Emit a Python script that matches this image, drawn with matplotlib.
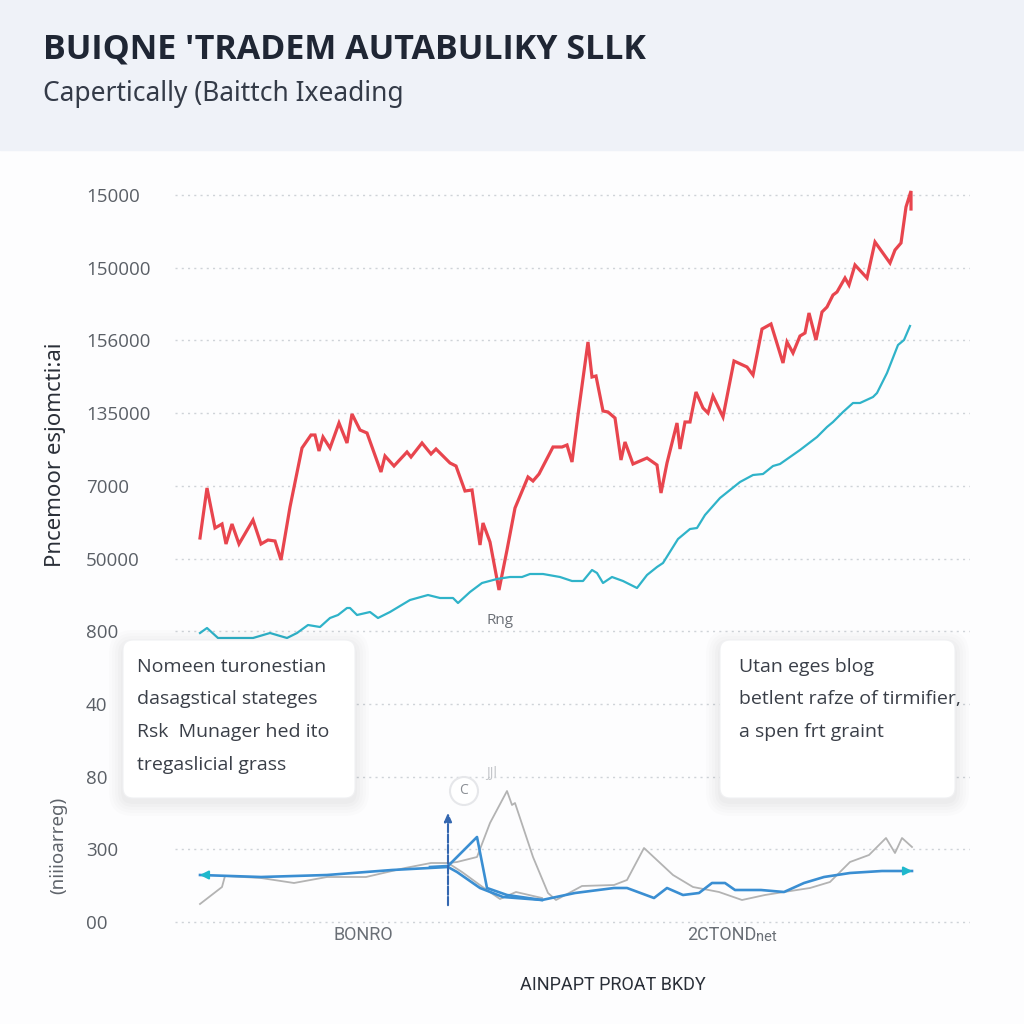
import matplotlib
matplotlib.use("Agg")
import matplotlib.pyplot as plt
from matplotlib.patches import FancyBboxPatch, Rectangle, Circle
import numpy as np

# ---------------- data ----------------
title = "BUIQNE 'TRADEM AUTABULIKY SLLK"
subtitle = "Capertically (Baittch Ixeading"
y_label = "Pncemoor esjomcti:ai"
y_label2 = "(niiioarreg)"
x_title = "AINPAPT PROAT BKDY"
ytick_labels = ["00", "300", "80", "40", "800", "50000", "7000",
                "135000", "156000", "150000", "15000"]
xcat_labels = ["BONRO", "2CTOND"]
xcat_pos = [163, 522]
box_left_lines = ["Nomeen turonestian", "dasagstical stateges",
                  "Rsk  Munager hed ito", "tregaslicial grass"]
box_right_lines = ["Utan eges blog", "betlent rafze of tirmifier,",
                   "a spen frt graint"]

red_x = [0, 7, 15, 22, 26, 32, 39, 53, 61, 68, 75, 81, 90, 102, 111, 115, 119, 123, 130, 139,
         147, 152, 160, 167, 181, 185, 194, 207, 211, 222, 231, 236, 250, 256, 265, 272, 280,
         283, 290, 299, 307, 315, 328, 333, 339, 353, 362, 367, 372, 378, 388, 392, 396, 403,
         408, 415, 421, 425, 433, 447, 457, 461, 467, 477, 480, 485, 490, 496, 503, 508, 513,
         523, 534, 547, 553, 562, 571, 583, 587, 593, 600, 605, 609, 616, 622, 627, 633, 637,
         645, 649, 655, 667, 675, 690, 695, 701, 706, 711, 711]
red_y = [384, 434, 394, 398, 378, 398, 378, 402, 378, 382, 381, 362, 415, 474, 487, 487, 471,
         485, 474, 499, 479, 508, 492, 489, 450, 466, 456, 470, 465, 479, 468, 473, 459, 456,
         431, 432, 377, 399, 380, 332, 372, 414, 445, 441, 448, 475, 475, 477, 460, 507, 580,
         545, 546, 511, 510, 504, 462, 480, 458, 464, 457, 429, 459, 499, 473, 500, 500, 530,
         514, 509, 526, 505, 561, 555, 547, 593, 598, 559, 580, 569, 586, 589, 609, 582, 610,
         615, 627, 630, 644, 637, 657, 644, 680, 659, 672, 679, 715, 731, 713]

teal_x = [0, 7, 18, 53, 70, 87, 97, 108, 120, 130, 138, 147, 150, 157, 170, 178, 190, 210,
          228, 240, 253, 258, 270, 282, 297, 310, 322, 330, 343, 360, 372, 383, 392, 397, 403,
          412, 423, 437, 447, 457, 463, 478, 490, 497, 505, 520, 540, 553, 563, 573, 580, 600,
          617, 627, 633, 643, 653, 660, 673, 677, 687, 698, 704, 710]
teal_y = [289, 294, 284, 284, 289, 284, 289, 297, 295, 304, 307, 314, 314, 307, 310, 304, 310,
          322, 327, 324, 324, 319, 330, 339, 343, 345, 345, 348, 348, 345, 341, 341, 352, 349,
          339, 345, 341, 334, 347, 355, 359, 383, 393, 394, 407, 424, 440, 447, 448, 456, 458,
          472, 485, 495, 500, 510, 519, 519, 525, 529, 549, 577, 582, 596]

blue1_x = [0, 61, 127, 192, 248, 257, 280, 303, 342, 375, 414, 427, 454, 467, 483, 499, 512,
           525, 535, 561, 584, 604, 624, 650, 682, 712]
blue1_y = [47, 45, 47, 52, 55, 50, 34, 25, 22, 29, 34, 34, 24, 34, 27, 29, 39, 39, 32, 32, 30,
           39, 45, 49, 51, 51]
blue2_x = [230, 248, 277, 287, 307, 342]
blue2_y = [55, 56, 85, 34, 27, 22]

grey1_x = [0, 22, 25, 61, 94, 127, 166, 205, 231, 248, 257, 277, 290, 307, 312, 315, 333, 348,
           356, 382, 414, 427, 444, 473, 493, 519, 542, 565, 584, 610, 630, 650, 669, 686, 695,
           702, 712]
grey1_y = [18, 35, 46, 44, 39, 45, 45, 54, 59, 59, 60, 65, 99, 131, 117, 119, 65, 29, 22, 36,
           37, 42, 74, 47, 35, 30, 22, 27, 30, 34, 40, 60, 67, 84, 69, 84, 75]
grey2_x = [248, 262, 284, 300, 316, 342]
grey2_y = [59, 50, 34, 23, 30, 24]

marker_x = 248
marker_y = [14, 112]

# ---------------- figure ----------------
plt.rcParams['font.family'] = ['Open Sans', 'DejaVu Sans']
W = H = 1024
fig = plt.figure(figsize=(10.24, 10.24), dpi=100, facecolor="#fdfdfe")

ax = fig.add_axes([175 / W, 1 - 962 / H, 795 / W, 800 / H])
ax.set_xlim(-25, 770)
ax.set_ylim(-40, 760)
ax.set_facecolor("none")
for s in ax.spines.values():
    s.set_visible(False)

step = 72.7
ypos = np.arange(len(ytick_labels)) * step
ax.set_yticks(ypos, ytick_labels)
ax.tick_params(axis='y', length=0, pad=64, labelsize=13.5, labelcolor="#5a5f66")
for lab in ax.get_yticklabels():
    lab.set_horizontalalignment('left')
ax.set_xticks([])
for yp in ypos:
    ax.axhline(yp, color="#cfd3d8", lw=1.0, ls=(0, (1.5, 3)), zorder=0)

# main lines
ax.plot(red_x, red_y, color="#e8454e", lw=2.3, zorder=4, solid_joinstyle='miter')
ax.plot(teal_x, teal_y, color="#2fb3c9", lw=1.6, zorder=4)

# lower lines
ax.plot(grey1_x, grey1_y, color="#b3b3b3", lw=1.3, zorder=3)
ax.plot(grey2_x, grey2_y, color="#b3b3b3", lw=1.3, zorder=3)
ax.plot(blue2_x, blue2_y, color="#3a8ed2", lw=1.9, zorder=4)
ax.plot(blue1_x, blue1_y, color="#3a8ed2", lw=1.9, zorder=4)
ax.annotate("", xy=(blue1_x[0] - 3, blue1_y[0]), xytext=(blue1_x[0] + 10, blue1_y[0]),
            arrowprops=dict(arrowstyle="-|>,head_length=0.5,head_width=0.25",
                            color="#1fb8cc", lw=1.5), zorder=5)
ax.annotate("", xy=(blue1_x[-1] + 3, blue1_y[-1]), xytext=(blue1_x[-1] - 10, blue1_y[-1]),
            arrowprops=dict(arrowstyle="-|>,head_length=0.5,head_width=0.25",
                            color="#1fb8cc", lw=1.5), zorder=5)
ax.annotate("", xy=(marker_x, marker_y[1]), xytext=(marker_x, marker_y[0]),
            arrowprops=dict(arrowstyle="-|>,head_length=0.5,head_width=0.22",
                            color="#3467b0", lw=1.5, ls=(0, (4, 1))), zorder=5)

ax.text(xcat_pos[0], -13, xcat_labels[0], ha="center", va="center", fontsize=13,
        color="#6a6f76", family=["Roboto", "DejaVu Sans"])
ax.text(xcat_pos[1], -13, xcat_labels[1], ha="center", va="center", fontsize=13,
        color="#6a6f76", family=["Roboto", "DejaVu Sans"])
ax.text(xcat_pos[1] + 34, -15, "net", ha="left", va="center", fontsize=10.5,
        color="#6a6f76", family=["Roboto", "DejaVu Sans"])
ax.text(300, 302, "Rng", ha="center", va="center", fontsize=11, color="#6c7077")

# ---------------- overlay for layout elements ----------------
ov = fig.add_axes([0, 0, 1, 1], zorder=10)
ov.set_xlim(0, W)
ov.set_ylim(H, 0)
ov.axis('off')

ov.add_patch(Rectangle((0, 0), W, 150, color="#eff2f8", zorder=0))
ov.text(43, 50, title, fontsize=24.5, fontweight="bold", color="#1f2634",
        ha="left", va="center", family=["Open Sans", "DejaVu Sans"])
ov.text(43, 94, subtitle, fontsize=19, color="#343b48", ha="left", va="center",
        family=["Noto Sans", "DejaVu Sans"])

ov.text(56, 455, y_label, rotation=90, fontsize=16, color="#2a2f38",
        ha="center", va="center", family=["Noto Sans", "DejaVu Sans"])
ov.text(58, 845, y_label2, rotation=90, fontsize=13.5, color="#5f646b",
        ha="center", va="center", family=["Noto Sans", "DejaVu Sans"])

ov.text(613, 985, x_title, fontsize=13, color="#2a2f38", ha="center", va="center",
        family=["Roboto", "DejaVu Sans"])


def card(xl, yt, w, h):
    for i, a in enumerate([0.012, 0.012, 0.012, 0.014, 0.016]):
        p = 14 - i * 3
        ov.add_patch(FancyBboxPatch((xl - p, yt - p + 4), w + 2 * p, h + 2 * p,
                                    boxstyle="round,pad=0,rounding_size=%d" % (10 + p),
                                    fc="black", ec="none", alpha=a, zorder=1))
    ov.add_patch(FancyBboxPatch((xl, yt), w, h, boxstyle="round,pad=0,rounding_size=10",
                                fc="#ffffff", ec="#f0f1f3", lw=0.8, zorder=2))


card(123, 640, 232, 158)
card(720, 640, 235, 158)
for i, line in enumerate(box_left_lines):
    ov.text(137, 667 + i * 32.5, line, fontsize=14, color="#3a3f48", ha="left",
            va="center", zorder=3)
for i, line in enumerate(box_right_lines):
    ov.text(739, 667 + i * 32.5, line, fontsize=14, color="#3a3f48", ha="left",
            va="center", zorder=3)

ov.add_patch(Circle((464, 791), 14, fc="#ffffff", ec="#e6e7ea", lw=1.5, zorder=3))
ov.text(464, 791, "C", fontsize=10, color="#8a8e94", ha="center", va="center", zorder=4)
ov.text(492, 774, "JJl", fontsize=10, color="#c4c6ca", ha="center", va="center", zorder=4)

fig.savefig("out.png", dpi=100, facecolor=fig.get_facecolor())
